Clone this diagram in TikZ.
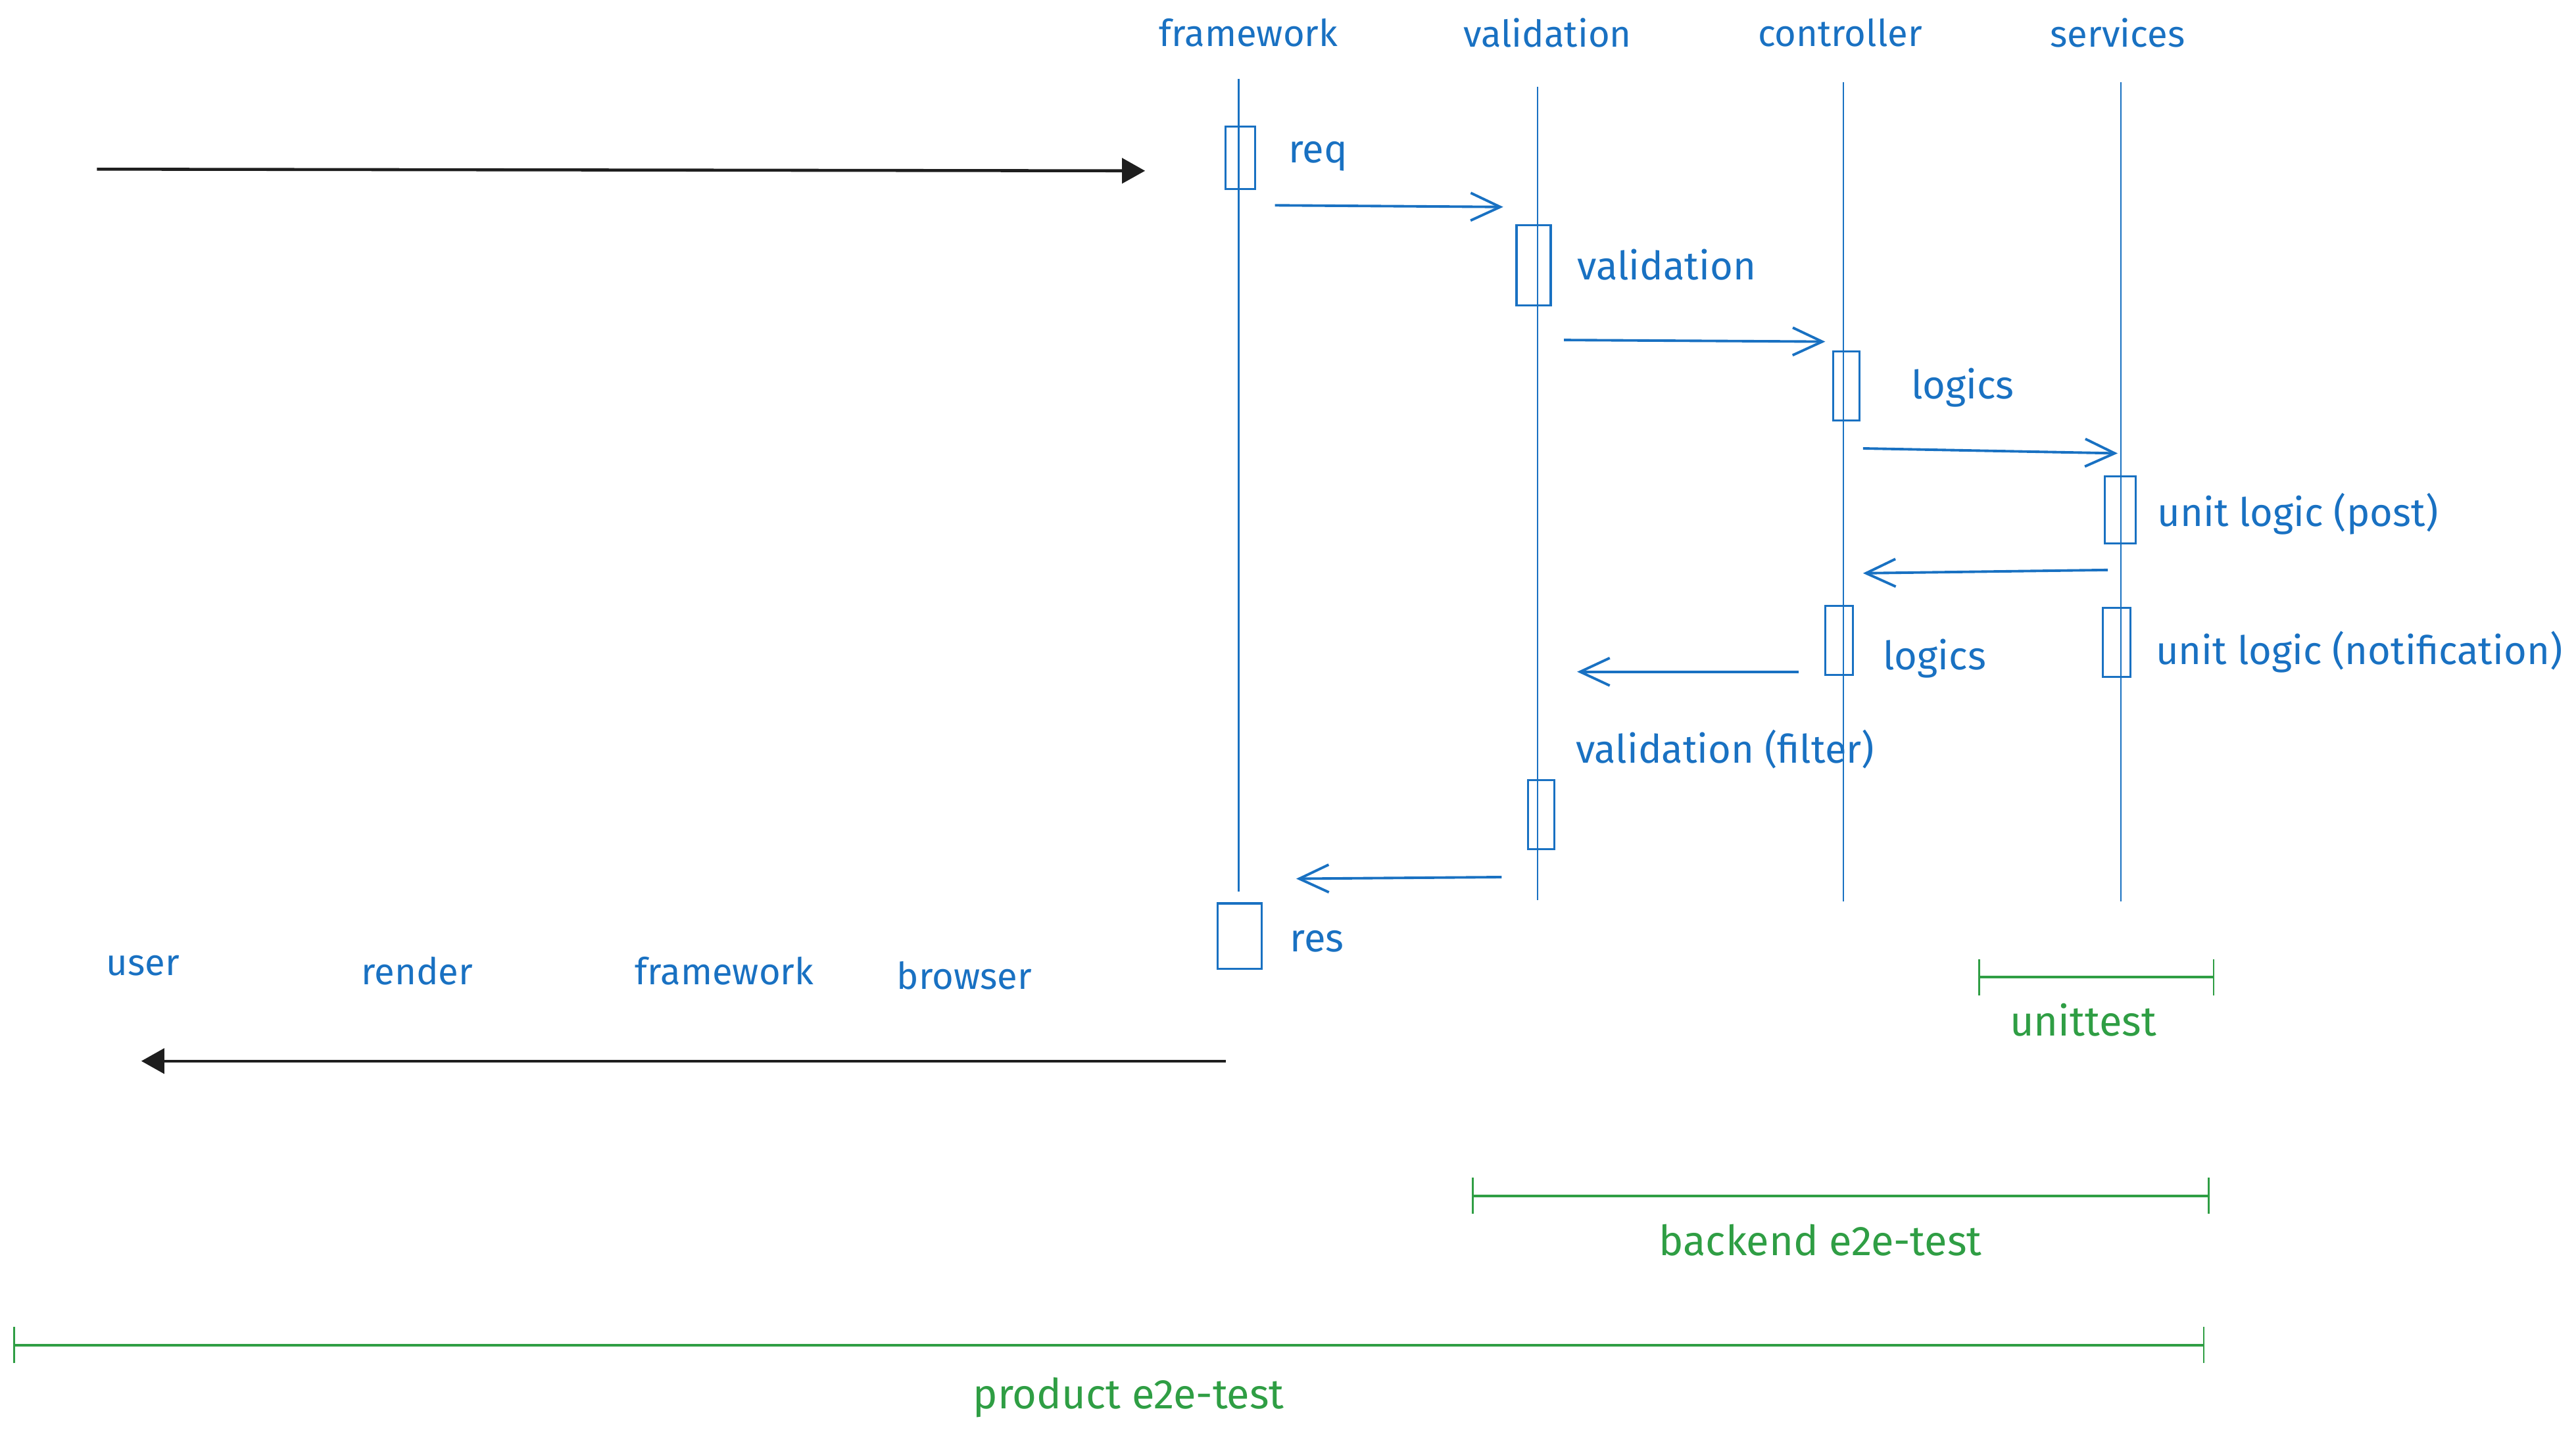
\documentclass[tikz,border=0pt]{standalone}
\usepackage{fontspec}
\setmainfont{Fira Sans}
\usetikzlibrary{positioning,arrows.meta}
\definecolor{sketchblue}{HTML}{1971C2}
\definecolor{sketchgreen}{HTML}{2F9E44}
\definecolor{sketchblack}{HTML}{1E1E1E}
\tikzset{
    every node/.style={font=\fontsize{16}{19}\selectfont},
    title/.style={text=sketchblue},
    note/.style={text=sketchblue, anchor=west, inner sep=0pt, font=\fontsize{17}{20}\selectfont},
    testlabel/.style={text=sketchgreen, font=\fontsize{18}{22}\selectfont},
    lifeline/.style={draw=sketchblue, line width=0.7pt},
    actbox/.style={draw=sketchblue, line width=0.9pt, rectangle, inner sep=0pt},
    msg/.style={draw=sketchblue, line width=1.1pt, -{Straight Barb[length=4.5mm, width=4.2mm, line width=1.1pt]}},
    userarrow/.style={draw=sketchblack, line width=1.3pt, -{Triangle[length=3.5mm, width=3.8mm]}},
    span/.style={draw=sketchgreen, line width=1.1pt, {Bar[width=5.5mm, line width=0.8pt]}-{Bar[width=5.5mm, line width=0.8pt]}},
}
\begin{document}
\begin{tikzpicture}[x=0.25mm, y=-0.25mm]
\useasboundingbox (0,0) rectangle (1568,873);

% lifelines with their titles
\foreach \name/\text/\tx/\x/\ytop/\ybot in {fw/framework/760/754/48/543, val/validation/942/936/53/548,
                                           ctl/controller/1120/1122/50/549, svc/services/1289/1291/50/549}{
  \node[title] (\name-title) at (\tx,20) {\text};
  \coordinate (\name-top) at (\x,\ytop);
  \coordinate (\name-bot) at (\x,\ybot);
  \draw[lifeline] (\name-top) -- (\name-bot);
}

% activation boxes
\node[actbox, minimum width=4.5mm, minimum height=9.5mm] (fw-act1) at (755,96) {};
\node[actbox, minimum width=5.2mm, minimum height=12.2mm] (val-act1) at (933.5,161.5) {};
\node[actbox, minimum width=4mm, minimum height=10.5mm] (ctl-act1) at (1124,235) {};
\node[actbox, minimum width=4.7mm, minimum height=10.2mm] (svc-act1) at (1290.5,310.5) {};
\node[actbox, minimum width=4.2mm, minimum height=10.5mm] (ctl-act2) at (1119.5,390) {};
\node[actbox, minimum width=4.2mm, minimum height=10.5mm] (svc-act2) at (1288.5,391) {};
\node[actbox, minimum width=4mm, minimum height=10.5mm] (val-act2) at (938,496) {};
\node[actbox, minimum width=6.7mm, minimum height=10mm] (fw-res) at (754.5,570) {};

% notes beside the boxes
\node[note] (req) at (784,95) {req};
\node[note] (validation) at (960,161) {validation};
\node[note] (logics1) at (1163,236) {logics};
\node[note] (post) at (1313,313) {unit logic (post)};
\node[note] (logics2) at (1146,401) {logics};
\node[note] (notification) at (1312,397) {unit logic (notification)};
\node[note] (filter) at (959,456) {validation (filter)};
\node[note] (res) at (785,573) {res};

% messages between the layers
\foreach \i/\xa/\ya/\xb/\yb in {1/776/125/915/126, 2/952/207/1111/208, 3/1134/273/1289/276,
                                4/1283/347/1134/349, 5/1095/409/960/409, 6/914/534/789/535}{
  \coordinate (m\i-s) at (\xa,\ya);
  \coordinate (m\i-e) at (\xb,\yb);
  \draw[msg] (m\i-s) -- (m\i-e);
}

% user side
\coordinate (in-s) at (59,103);
\coordinate (in-e) at (697,104);
\draw[userarrow] (in-s) -- (in-e);
\coordinate (out-s) at (746,646);
\coordinate (out-e) at (86,646);
\draw[userarrow] (out-s) -- (out-e);

\foreach \name/\text/\x/\y in {user/user/87/588, render/render/254/591,
                                fwb/framework/441/591, browser/browser/587/594}{
  \node[title] (\name) at (\x,\y) {\text};
}

% test scopes
\foreach \name/\text/\xa/\xb/\y/\lx/\ly in {unit/unittest/1204/1348/595/1268/621,
                                            backend/backend e2e-test/896/1345/728/1108/755,
                                            product/product e2e-test/8/1342/819/687/851}{
  \coordinate (\name-l) at (\xa,\y);
  \coordinate (\name-r) at (\xb,\y);
  \draw[span] (\name-l) -- (\name-r);
  \node[testlabel] (\name-label) at (\lx,\ly) {\text};
}

\end{tikzpicture}
\end{document}
